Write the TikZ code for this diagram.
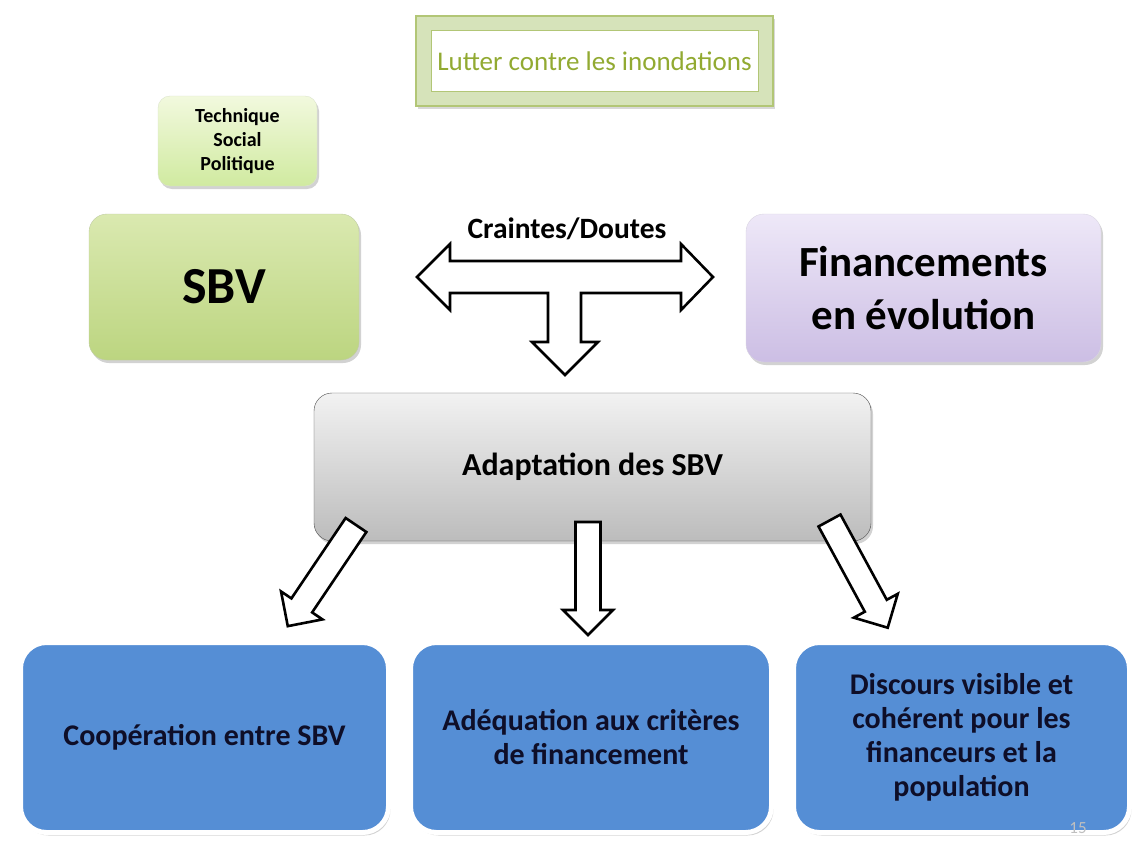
\documentclass[tikz,border=0pt]{standalone}
\usepackage{fontspec}
\setmainfont{Carlito}
\usetikzlibrary{calc,shadows,positioning}

\definecolor{titlegreen}{RGB}{146,170,50}
\definecolor{framegreen}{RGB}{214,227,186}
\definecolor{framedark}{RGB}{178,198,118}
\definecolor{sbvtop}{RGB}{218,233,176}
\definecolor{sbvbot}{RGB}{188,213,128}
\definecolor{techtop}{RGB}{242,249,222}
\definecolor{techbot}{RGB}{208,234,160}
\definecolor{fintop}{RGB}{238,232,248}
\definecolor{finbot}{RGB}{204,190,228}
\definecolor{adtop}{RGB}{242,242,242}
\definecolor{adbot}{RGB}{188,188,188}
\definecolor{bluebox}{RGB}{85,142,213}
\definecolor{navytext}{RGB}{14,14,40}

% block arrow: start, angle, length
\newcommand{\fatarrow}[3]{%
 \begin{scope}[shift={(#1)}, rotate=#2]
  \draw[fatline] (0,-12.5) -- ({#3-25},-12.5) -- ({#3-25},-25) -- (#3,0)
   -- ({#3-25},25) -- ({#3-25},12.5) -- (0,12.5) -- cycle;
 \end{scope}}

\begin{document}
\begin{tikzpicture}
 [
  x=1pt, y=-1pt,
  fatline/.style = {draw=black, line width=2.6pt, fill=white, line join=miter},
  box/.style     = {rounded corners=18pt, align=center, inner sep=0pt,
                    font=\bfseries, text=black,
                    drop shadow={shadow xshift=2pt, shadow yshift=-3pt, opacity=.35}},
  greenbox/.style  = {box, draw=sbvbot!80!black!60, top color=sbvtop, bottom color=sbvbot},
  techbox/.style   = {box, rounded corners=12pt, draw=techbot!80!black!40,
                      top color=techtop, bottom color=techbot},
  purplebox/.style = {box, draw=finbot!80!black!40, top color=fintop, bottom color=finbot},
  graybox/.style   = {box, draw=black!70, top color=adtop, bottom color=adbot},
  bluebox/.style   = {box, rounded corners=26pt, fill=bluebox, draw=white, line width=5pt,
                      text=navytext, minimum height=190pt,
                      font=\bfseries\fontsize{30}{34}\selectfont},
 ]
 \useasboundingbox[fill=white] (0,0) rectangle (1135,847);

 % title
 \node[draw=framedark, line width=1.2pt, fill=framegreen, minimum width=357pt, minimum height=90pt,
       drop shadow={shadow xshift=2pt, shadow yshift=-3pt, opacity=.3}] (title) at (594.5,61) {};
 \node[draw=framedark, fill=white, minimum width=327pt, minimum height=61pt,
       text=titlegreen, font=\fontsize{27}{30}\selectfont] (titletxt) at (title) {Lutter contre les inondations};

 % top row
 \node[techbox, minimum width=159pt, minimum height=90pt, font=\bfseries\fontsize{20}{24}\selectfont]
   (tech) at (237.5,141) {Technique\\Social\\Politique};
 \node[greenbox, minimum width=270pt, minimum height=146pt, font=\bfseries\fontsize{52}{56}\selectfont]
   (sbv) at (224,287) {SBV};
 \node[purplebox, minimum width=355pt, minimum height=148pt, font=\bfseries\fontsize{43}{53}\selectfont]
   (fin) at (923.5,288) {Financements\\en évolution};

 % craintes / doutes
 \node[font=\bfseries\fontsize{29.5}{32}\selectfont] (doutes) at (567,229) {Craintes/Doutes};
 \draw[fatline] (417,277) -- (450,244) -- (450,261) -- (681,261) -- (681,244) -- (713,277)
   -- (681,310) -- (681,293) -- (581,293) -- (581,342) -- (598,342) -- (565,375)
   -- (532,342) -- (548,342) -- (548,293) -- (450,293) -- (450,310) -- cycle;

 \node[graybox, minimum width=557pt, minimum height=148pt, font=\bfseries\fontsize{32}{36}\selectfont]
   (adapt) at (592.5,467) {Adaptation des SBV};

 % bottom row
 \node[bluebox, minimum width=368pt] (coop) at (204.5,737.5) {Coopération entre SBV};
 \node[bluebox, minimum width=361pt] (adeq) at (591,737.5) {Adéquation aux critères\\de financement};
 \node[bluebox, minimum width=336pt] (disc) at (961.5,737.5)
   {Discours visible et\\cohérent pour les\\financeurs et la\\population};

 % page number, half hidden
 \node[text=black!25, font=\fontsize{17}{17}\selectfont] (pagenum) at (1078,828) {15};

 \coordinate (outL) at (356,525);
 \coordinate (outM) at (588,522);
 \coordinate (outR) at (829.5,520.5);
 \fatarrow{outL}{236}{122}
 \fatarrow{outM}{270}{113}
 \fatarrow{outR}{298.5}{122}
\end{tikzpicture}
\end{document}
